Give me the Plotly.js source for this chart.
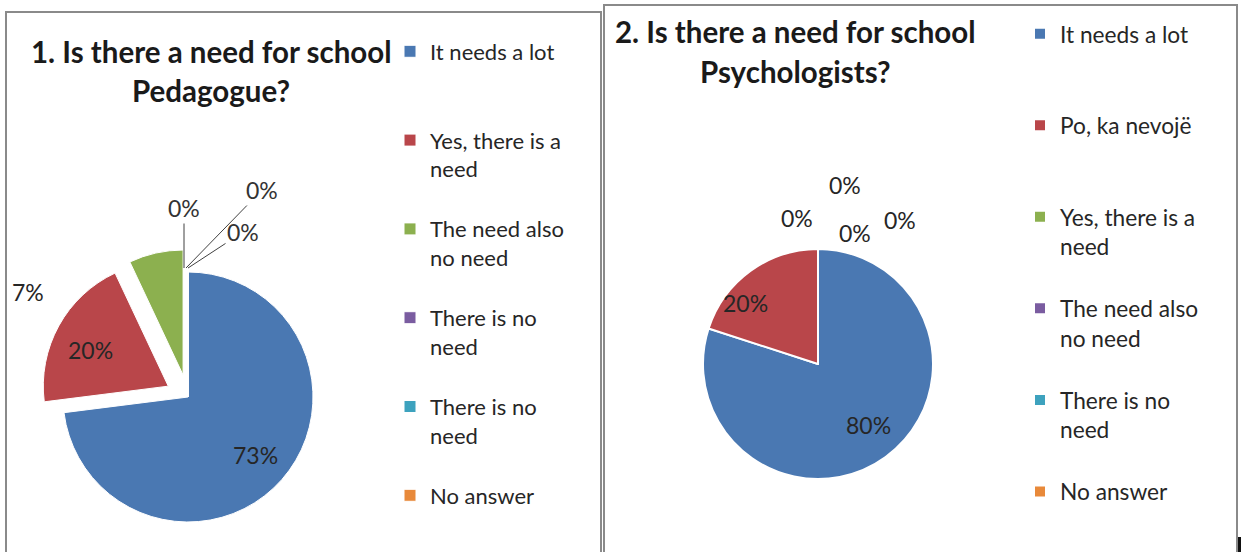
<!DOCTYPE html>
<html><head><meta charset="utf-8">
<script src="https://cdn.plot.ly/plotly-3.0.1.min.js"></script>
<style>html,body{margin:0;padding:0;background:#fff}#chart{width:1244px;height:552px}</style>
</head><body><div id="chart"></div>
<script>
// ---------- data ----------
const pedagogueTitle = ['1. Is there a need for school', 'Pedagogue?'];
const pedagogueLabels = ['It needs a lot', 'Yes, there is a need', 'The need also no need', 'There is no need', 'There is no need', 'No answer'];
const pedagogueValues = [73, 20, 7, 0, 0, 0];

const psychologistTitle = ['2. Is there a need for school', 'Psychologists?'];
const psychologistLabels = ['It needs a lot', 'Po, ka nevojë', 'Yes, there is a need', 'The need also no need', 'There is no need', 'No answer'];
const psychologistValues = [80, 20, 0, 0, 0, 0];

const sliceColors = ['#4A78B2', '#B9464A', '#8CB04F', '#7A5CA0', '#3DA2BE', '#E8893A'];

// ---------- layout helpers ----------
const W = 1244, H = 552;
const px = x => x / W;
const py = y => 1 - y / H;
const FONT = 'Lato, "Open Sans", "DejaVu Sans", sans-serif';

// wrap legend text into lines and pad to a fixed line count; invisible suffix keeps labels unique per chart
function wrapLabel(s, uid, maxChars, padTo) {
  const words = s.split(' ');
  const lines = [];
  let cur = '';
  words.forEach(w => {
    const t = cur ? cur + ' ' + w : w;
    if (t.length > maxChars && cur) { lines.push(cur); cur = w; } else cur = t;
  });
  if (cur) lines.push(cur);
  while (lines.length < padTo) lines.push('\u00a0');
  lines[lines.length - 1] += '\u00a0'.repeat(uid);
  return lines.join('<br>');
}
const pedLegend = pedagogueLabels.map((s, i, a) => wrapLabel(s, i, 15, i === a.length - 1 ? 1 : 3));
const psyLegend = psychologistLabels.map((s, i, a) => wrapLabel(s, i + 6, 15, i === a.length - 1 ? 1 : 3));

function pctTexts(vals) {
  const tot = vals.reduce((a, b) => a + b, 0);
  return vals.map(v => Math.round(v / tot * 100) + '%');
}

// label placement (pixels): text centre, optional leader-line target
const pedLabelPos = [[255, 455], [90, 350], [28, 292], [184, 208], [262, 190], [243, 232]];
const pedLeader   = [null, null, null, [184, 268], [186, 268], [188, 268]];
const psyLabelPos = [[868, 425], [745, 303], [797, 218], [845, 185], [855, 233], [900, 220]];

// pie geometry (pixels)
function domainFor(cx, cy, r, pull) {
  const half = r * (1 + pull);
  return { x: [px(cx - half), px(cx + half)], y: [py(cy + half), py(cy - half)] };
}

const traces = [
  {
    type: 'pie', labels: pedLegend, values: pedagogueValues,
    sort: false, direction: 'clockwise', rotation: 0,
    pull: [0, 0.18, 0.18, 0, 0, 0],
    marker: { colors: sliceColors, line: { color: '#ffffff', width: 1 } },
    textinfo: 'none', hoverinfo: 'label+percent',
    domain: domainFor(188, 397, 125, 0.18),
    legend: 'legend', showlegend: true
  },
  {
    type: 'pie', labels: psyLegend, values: psychologistValues,
    sort: false, direction: 'clockwise', rotation: 0,
    marker: { colors: sliceColors, line: { color: '#ffffff', width: 2 } },
    textinfo: 'none', hoverinfo: 'label+percent',
    domain: domainFor(818, 364, 115, 0),
    legend: 'legend2', showlegend: true
  }
];

const annotations = [];
function addTitle(lines, cx, ys) {
  lines.forEach((t, i) => annotations.push({
    xref: 'paper', yref: 'paper', x: px(cx), y: py(ys[i]), xanchor: 'center', yanchor: 'middle',
    text: '<b>' + t + '</b>', showarrow: false,
    font: { family: FONT, size: 29.5, color: '#1a1a1a' }
  }));
}
addTitle(pedagogueTitle, 211, [52, 90]);
addTitle(psychologistTitle, 795, [31, 71]);

function addPct(vals, pos, leaders) {
  const txt = pctTexts(vals);
  txt.forEach((t, i) => {
    const [x, y] = pos[i];
    const lead = leaders && leaders[i];
    if (lead) {
      annotations.push({
        xref: 'paper', yref: 'paper', x: px(lead[0]), y: py(lead[1]),
        ax: x - lead[0], ay: y - lead[1], axref: 'pixel', ayref: 'pixel',
        text: t, showarrow: true, arrowhead: 0, arrowwidth: 1, arrowcolor: '#404040',
        font: { family: FONT, size: 23, color: '#333333' }
      });
    } else {
      annotations.push({
        xref: 'paper', yref: 'paper', x: px(x), y: py(y), xanchor: 'center', yanchor: 'middle',
        text: t, showarrow: false,
        font: { family: FONT, size: 23, color: '#262626' }
      });
    }
  });
}
addPct(pedagogueValues, pedLabelPos, pedLeader);
addPct(psychologistValues, psyLabelPos, null);

const shapes = [
  { type: 'rect', xref: 'paper', yref: 'paper', x0: px(6), x1: px(601), y0: py(570), y1: py(12),
    line: { color: '#8a8a8a', width: 2 }, fillcolor: 'rgba(0,0,0,0)' },
  { type: 'rect', xref: 'paper', yref: 'paper', x0: px(604), x1: px(1237), y0: py(570), y1: py(5),
    line: { color: '#8a8a8a', width: 2 }, fillcolor: 'rgba(0,0,0,0)' },
  { type: 'rect', xref: 'paper', yref: 'paper', x0: px(1238), x1: px(1241), y0: py(552), y1: py(537),
    line: { width: 0 }, fillcolor: '#111111' }
];

function legendAt(x, y, size) {
  return {
    orientation: 'v', xanchor: 'left', yanchor: 'top', valign: 'top',
    x: px(x), y: py(y),
    bgcolor: 'rgba(0,0,0,0)', borderwidth: 0,
    font: { family: FONT, size: size, color: '#262626' }
  };
}

const layout = {
  width: W, height: H,
  margin: { l: 0, r: 0, t: 0, b: 0 },
  paper_bgcolor: '#ffffff', plot_bgcolor: '#ffffff',
  showlegend: true,
  legend: legendAt(390, 30.5, 22),
  legend2: legendAt(1020, 12.5, 22.7),
  annotations: annotations,
  shapes: shapes
};

Plotly.newPlot('chart', traces, layout, { displayModeBar: false, staticPlot: true });
</script>
</body></html>
